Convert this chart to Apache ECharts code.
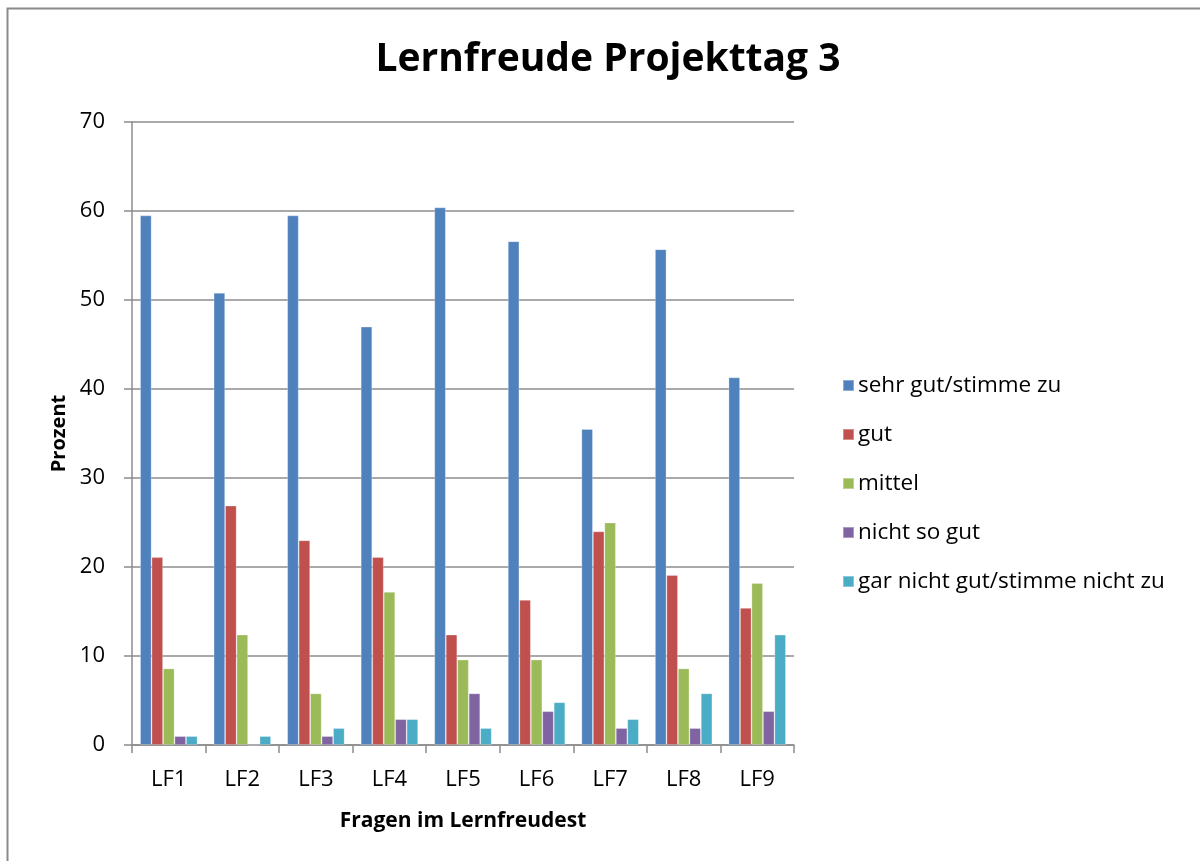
<!DOCTYPE html>
<html>
<head>
<meta charset="utf-8">
<script src="https://cdn.jsdelivr.net/npm/echarts@6/dist/echarts.min.js"></script>
<style>
  html, body { margin: 0; padding: 0; background: #ffffff; }
  #chart { width: 1200px; height: 861px; }
</style>
</head>
<body>
<div id="chart"></div>
<script>
// Fragen (Kategorien)
const categories = ['LF1', 'LF2', 'LF3', 'LF4', 'LF5', 'LF6', 'LF7', 'LF8', 'LF9'];

// Antwortanteile in Prozent
const sehrGut   = [59.5, 50.8, 59.5, 47.0, 60.4, 56.6, 35.5, 55.7, 41.3];
const gut       = [21.1, 26.9, 23.0, 21.1, 12.4, 16.3, 24.0, 19.1, 15.4];
const mittel    = [8.6, 12.4, 5.8, 17.2, 9.6, 9.6, 25.0, 8.6, 18.2];
const nichtSo   = [1.0, 0, 1.0, 2.9, 5.8, 3.8, 1.9, 1.9, 3.8];
const garNicht  = [1.0, 1.0, 1.9, 2.9, 1.9, 4.8, 2.9, 5.8, 12.4];

const seriesNames = ['sehr gut/stimme zu', 'gut', 'mittel', 'nicht so gut', 'gar nicht gut/stimme nicht zu'];
const seriesColors = ['#4F81BD', '#C0504D', '#9BBB59', '#8064A2', '#4BACC6'];
const seriesData = [sehrGut, gut, mittel, nichtSo, garNicht];

const FONT = '"Open Sans", "Noto Sans", sans-serif';

const chart = echarts.init(document.getElementById('chart'), null, { renderer: 'canvas' });

chart.setOption({
  backgroundColor: '#ffffff',
  animation: false,
  textStyle: { fontFamily: FONT },
  title: {
    text: 'Lernfreude Projekttag 3',
    left: 603,
    top: 35,
    textAlign: 'center',
    textStyle: { fontFamily: FONT, fontSize: 39, fontWeight: 'bold', color: '#000' }
  },
  graphic: [{
    type: 'rect',
    shape: { x: 7.5, y: 8.5, width: 1300, height: 1000 },
    style: { fill: 'none', stroke: '#8a8a8a', lineWidth: 2 },
    silent: true
  }],
  legend: {
    orient: 'vertical',
    left: 837,
    top: 369,
    itemWidth: 11,
    itemHeight: 11,
    itemGap: 26,
    icon: 'rect',
    textStyle: { fontFamily: FONT, fontSize: 22.5, color: '#000', padding: [0, 0, 0, -1] },
    data: seriesNames
  },
  grid: { left: 132, right: 406, top: 122, bottom: 116, containLabel: false },
  xAxis: {
    type: 'category',
    data: categories,
    name: 'Fragen im Lernfreudest',
    nameLocation: 'middle',
    nameGap: 66,
    nameTextStyle: { fontFamily: FONT, fontSize: 21, fontWeight: 'bold', color: '#000' },
    axisLine: { show: true, lineStyle: { color: '#8c8c8c', width: 1.5 } },
    axisTick: { show: true, length: 8, lineStyle: { color: '#8c8c8c', width: 1.5 } },
    axisLabel: { fontFamily: FONT, fontSize: 22, color: '#000', margin: 24 }
  },
  yAxis: {
    type: 'value',
    min: 0,
    max: 70,
    interval: 10,
    name: 'Prozent',
    nameLocation: 'middle',
    nameGap: 62,
    nameRotate: 90,
    nameTextStyle: { fontFamily: FONT, fontSize: 20, fontWeight: 'bold', color: '#000' },
    axisLine: { show: true, lineStyle: { color: '#8c8c8c', width: 1.5 } },
    axisTick: { show: true, length: 8, lineStyle: { color: '#8c8c8c', width: 1.5 } },
    axisLabel: { fontFamily: FONT, fontSize: 22, color: '#000', margin: 27 },
    splitLine: { show: true, lineStyle: { color: '#8c8c8c', width: 1.5 } }
  },
  series: seriesData.map((d, i) => ({
    name: seriesNames[i],
    type: 'bar',
    data: d,
    barGap: '0%',
    barCategoryGap: '22%',
    itemStyle: {
      color: seriesColors[i],
      borderColor: 'rgba(255,255,255,0.35)',
      borderWidth: 0.8
    }
  }))
});
</script>
</body>
</html>
